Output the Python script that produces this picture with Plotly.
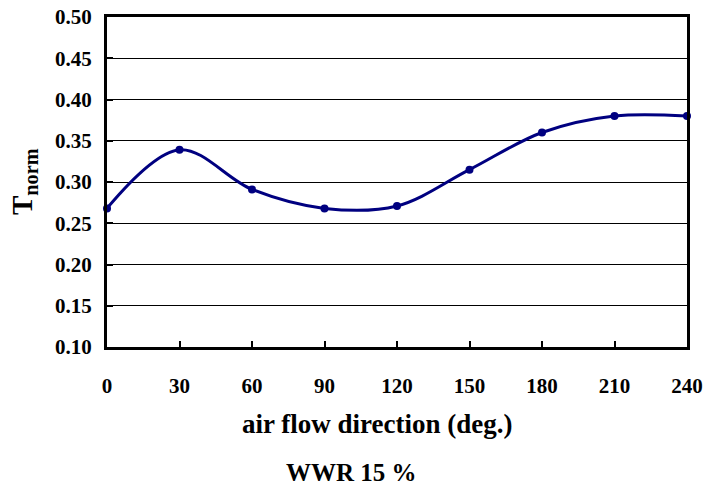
import plotly.graph_objects as go

# Air flow direction (degrees) and normalised temperature
directions = [0, 30, 60, 90, 120, 150, 180, 210, 240]
t_norm = [0.268, 0.339, 0.291, 0.268, 0.271, 0.315, 0.360, 0.380, 0.380]

x_ticks = [0, 30, 60, 90, 120, 150, 180, 210, 240]
y_ticks = [0.10, 0.15, 0.20, 0.25, 0.30, 0.35, 0.40, 0.45, 0.50]

FONT = "Liberation Serif, Times New Roman, serif"
NAVY = "#000080"

fig = go.Figure()
fig.add_trace(go.Scatter(
    x=directions, y=t_norm,
    mode="lines+markers",
    line=dict(color=NAVY, width=3, shape="spline", smoothing=1),
    marker=dict(color=NAVY, size=8),
    cliponaxis=False,
    showlegend=False,
))

axis_common = dict(
    showline=True, linecolor="black", linewidth=3, mirror=True,
    ticks="inside", ticklen=6, tickwidth=2, tickcolor="black",
    tickfont=dict(family=FONT, size=21, color="black", weight="bold"),
    zeroline=False, automargin=False,
)

fig.update_layout(
    width=705, height=488,
    margin=dict(l=107, r=18, t=17, b=141),
    paper_bgcolor="white", plot_bgcolor="white",
    font=dict(family=FONT, color="black"),
    xaxis=dict(
        range=[0, 240], tickvals=x_ticks, ticktext=[str(v) for v in x_ticks],
        showgrid=False, ticklabelstandoff=18, **axis_common,
    ),
    yaxis=dict(
        range=[0.10, 0.50], tickvals=y_ticks, ticktext=[f"{v:.2f}" for v in y_ticks],
        showgrid=True, gridcolor="black", gridwidth=1,
        ticklabelstandoff=8, **axis_common,
    ),
    annotations=[
        dict(text="air flow direction (deg.)", x=377, y=424,
             xref="paper", yref="paper", showarrow=False,
             font=dict(family=FONT, size=27, color="black", weight="bold")),
        dict(text="WWR 15 %", x=351, y=472,
             xref="paper", yref="paper", showarrow=False,
             font=dict(family=FONT, size=25, color="black", weight="bold")),
        dict(text="T<sub>norm</sub>", x=24, y=182,
             xref="paper", yref="paper", showarrow=False, textangle=-90,
             font=dict(family=FONT, size=29, color="black", weight="bold")),
    ],
)

# Convert pixel positions of the text labels into paper coordinates
pw, ph = 705 - 107 - 18, 488 - 17 - 141
for ann in fig.layout.annotations:
    ann.x = (ann.x - 107) / pw
    ann.y = 1 - (ann.y - 17) / ph
    ann.xanchor = "center"
    ann.yanchor = "middle"

fig.write_html("out.html")
